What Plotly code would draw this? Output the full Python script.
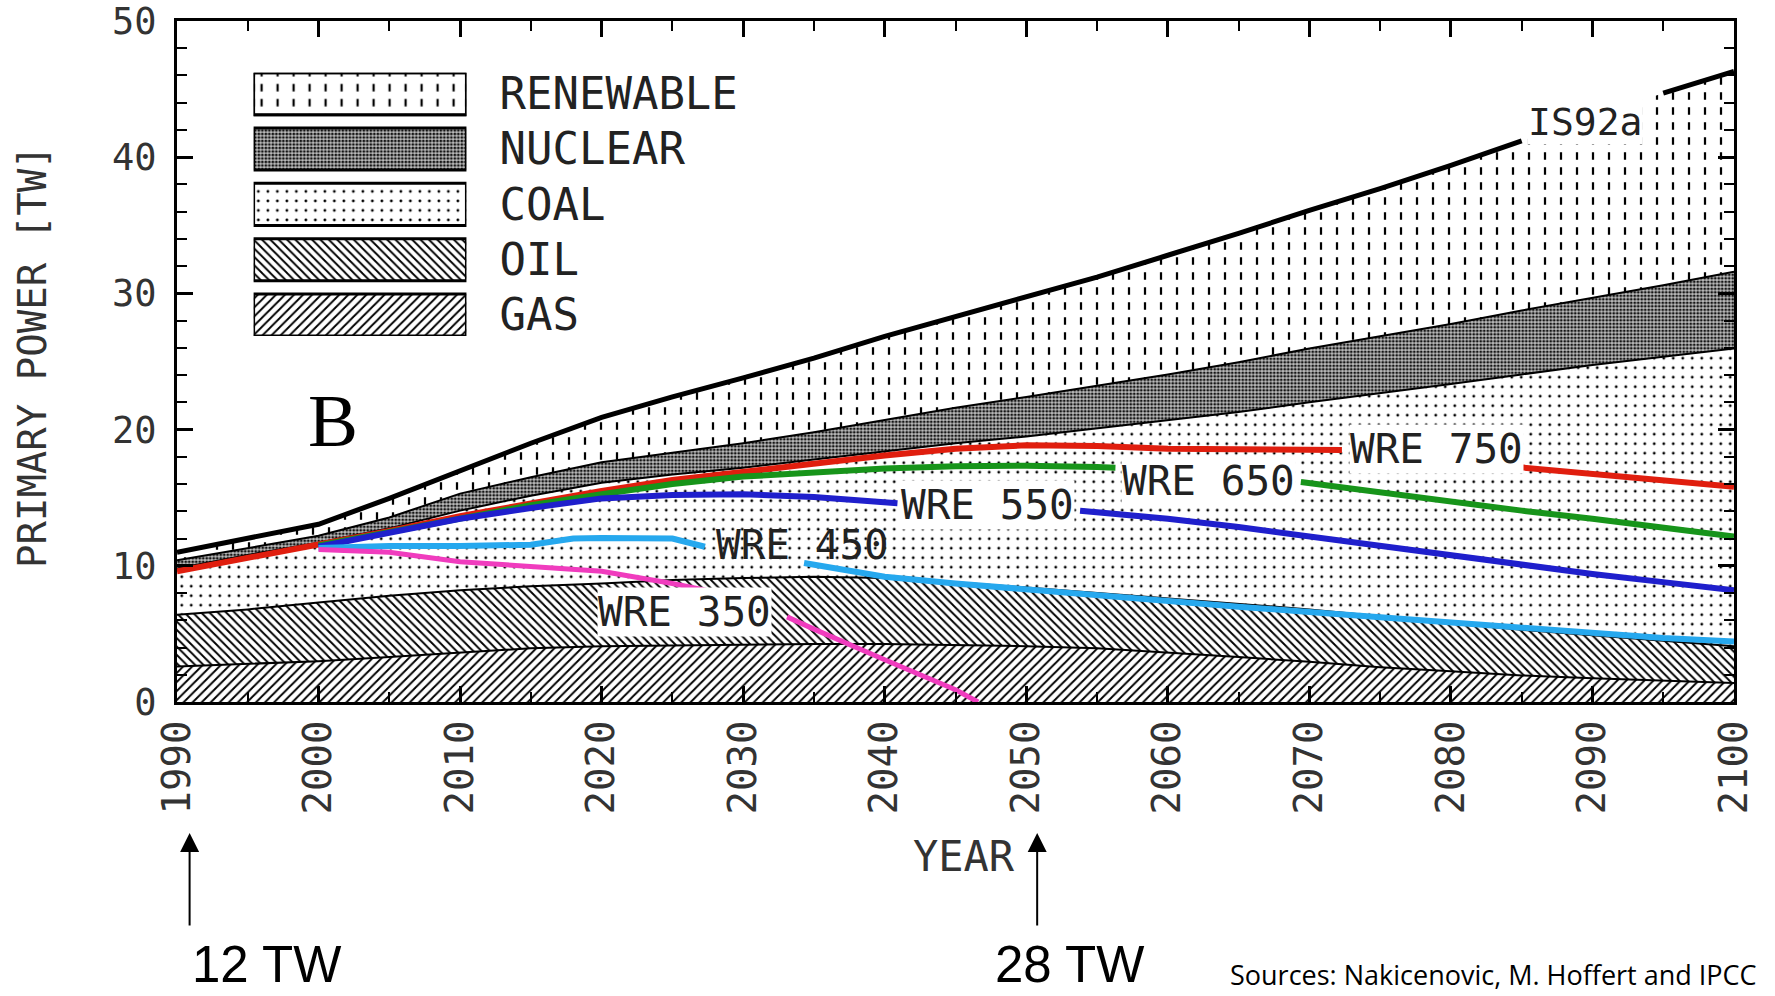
import numpy as np
import plotly.graph_objects as go

# ---------------- data ----------------
years = list(range(1990, 2101, 5))
gas = [2.6, 2.8, 3.0, 3.3, 3.6, 3.95, 4.1, 4.15, 4.25, 4.25, 4.25, 4.2, 4.1, 3.95,
       3.65, 3.3, 2.95, 2.55, 2.25, 1.95, 1.75, 1.55, 1.4]
oil = [3.8, 4.0, 4.3, 4.5, 4.6, 4.55, 4.6, 4.8, 4.85, 4.95, 4.85, 4.6, 4.3, 4.05,
       3.95, 3.9, 3.85, 3.75, 3.55, 3.35, 3.15, 2.95, 2.7]
coal = [3.4, 4.0, 4.4, 4.95, 5.85, 6.65, 7.4, 7.75, 8.1, 8.6, 9.3, 10.2, 11.1, 12.1,
        13.1, 14.1, 15.2, 16.35, 17.55, 18.75, 19.85, 20.85, 21.85]
nuclear = [0.6, 0.5, 0.5, 0.8, 1.25, 1.35, 1.5, 1.6, 1.8, 2.0, 2.3, 2.6, 2.9, 3.1,
           3.35, 3.65, 3.95, 4.2, 4.4, 4.7, 4.9, 5.25, 5.65]
renewable = [0.6, 0.7, 0.85, 1.4, 1.7, 2.5, 3.3, 4.1, 4.8, 5.45, 6.15, 6.7, 7.3, 8.0,
             8.75, 9.45, 10.15, 10.85, 11.65, 12.45, 13.35, 14.1, 14.7]
source_names = ["GAS", "OIL", "COAL", "NUCLEAR", "RENEWABLE"]
is92a_label_gap = (2086, 2094)

wre750_years = [1990, 1995, 2000, 2005, 2010, 2015, 2020, 2025, 2030, 2035, 2040, 2045,
                2050, 2055, 2060, 2065, 2070, 2072.3, 2078, 2084.7, 2090, 2095, 2100]
wre750 = [9.6, 10.6, 11.5, 12.55, 13.65, 14.6, 15.5, 16.3, 16.9, 17.6, 18.1, 18.6,
          18.85, 18.8, 18.6, 18.55, 18.5, 18.5, None, 17.25, 16.75, 16.25, 15.8]
wre650_years = [2000, 2005, 2010, 2015, 2020, 2025, 2030, 2035, 2040, 2045, 2050, 2055,
                2056.3, 2063, 2069.4, 2075, 2080, 2085, 2090, 2095, 2100]
wre650 = [11.5, 12.5, 13.55, 14.45, 15.25, 16.0, 16.55, 16.9, 17.15, 17.3, 17.35, 17.25,
          17.2, None, 16.15, 15.4, 14.65, 14.05, 13.45, 12.85, 12.15]
wre550_years = [2000, 2005, 2010, 2015, 2020, 2025, 2030, 2035, 2040, 2040.9, 2047,
                2053.8, 2055, 2060, 2065, 2070, 2075, 2080, 2085, 2090, 2095, 2100]
wre550 = [11.4, 12.45, 13.45, 14.25, 14.95, 15.2, 15.25, 15.05, 14.65, 14.6, None,
          14.05, 13.95, 13.45, 12.85, 12.15, 11.45, 10.7, 10.05, 9.4, 8.8, 8.2]
wre450_years = [2000, 2005, 2010, 2015, 2018, 2020, 2025, 2027.3, 2031, 2034.3, 2040,
                2045, 2050, 2055, 2060, 2065, 2070, 2075, 2080, 2085, 2090, 2095, 2100]
wre450 = [11.3, 11.45, 11.45, 11.55, 12.0, 12.05, 12.0, 11.4, None, 10.2, 9.2,
          8.7, 8.25, 7.8, 7.4, 7.0, 6.6, 6.2, 5.8, 5.4, 5.0, 4.7, 4.45]
wre350_years = [2000, 2005, 2010, 2015, 2020, 2025, 2027.6, 2030, 2033.1, 2035, 2040,
                2045, 2046.6]
wre350 = [11.2, 11.0, 10.3, 9.95, 9.6, 8.7, 8.15, None, 6.25, 5.35, 3.1, 0.9, 0.0]

x_ticks = list(range(1990, 2101, 10))
y_ticks = list(range(0, 51, 10))

# ---------------- styles ----------------
MONO = "DejaVu Sans Mono"
patterns = {
    "GAS": dict(shape="/", size=6.4, solidity=0.3, fgcolor="black", bgcolor="white"),
    "OIL": dict(shape="\\", size=5.9, solidity=0.32, fgcolor="black", bgcolor="white"),
    "COAL": dict(shape=".", size=9.5, solidity=0.07, fgcolor="black", bgcolor="white"),
    "NUCLEAR": dict(shape=".", size=3.5, solidity=0.5, fgcolor="#151515", bgcolor="#bdbdbd"),
    "RENEWABLE": dict(shape="|", size=16, solidity=0.14, fgcolor="black", bgcolor="white"),
}
CUT_BG = "rgba(255,255,255,0.004)"
dash_cut = dict(shape="-", size=15, solidity=0.5, fgcolor="white", fgopacity=1,
                fillmode="overlay")
wre_colors = {"750": "#e01e0e", "650": "#17941a", "550": "#1f1fcc",
              "450": "#26a8ee", "350": "#f03cbe"}

tops = np.cumsum(np.array([gas, oil, coal, nuclear, renewable]), axis=0)

fig = go.Figure()

# stacked fills
for i, name in enumerate(source_names):
    fig.add_trace(go.Scatter(
        x=years, y=tops[i].tolist(), mode="lines", line=dict(width=0, color="black"),
        fill="tozeroy" if i == 0 else "tonexty", fillcolor="white",
        fillpattern=dict(fillmode="replace", **patterns[name]),
        hoverinfo="skip", showlegend=False))
# cut the renewable vertical lines into dashes
fig.add_trace(go.Scatter(x=years, y=tops[3].tolist(), mode="lines",
                         line=dict(width=0), hoverinfo="skip", showlegend=False))
fig.add_trace(go.Scatter(x=years, y=tops[4].tolist(), mode="lines", line=dict(width=0),
                         fill="tonexty", fillcolor=CUT_BG, fillpattern=dash_cut,
                         hoverinfo="skip", showlegend=False))

# boundary lines
for i in range(4):
    fig.add_trace(go.Scatter(x=years, y=tops[i].tolist(), mode="lines",
                             line=dict(color="black", width=2),
                             hoverinfo="skip", showlegend=False))
total_line = [None if is92a_label_gap[0] <= yr <= is92a_label_gap[1] else float(v)
              for yr, v in zip(years, tops[4])]
fig.add_trace(go.Scatter(x=years, y=total_line, mode="lines",
                         line=dict(color="black", width=5), connectgaps=False,
                         hoverinfo="skip", showlegend=False))

# WRE scenarios
for key, xs, ys, w in [("750", wre750_years, wre750, 6), ("650", wre650_years, wre650, 6),
                       ("550", wre550_years, wre550, 6), ("450", wre450_years, wre450, 6),
                       ("350", wre350_years, wre350, 5)]:
    fig.add_trace(go.Scatter(x=xs, y=ys, mode="lines", connectgaps=False,
                             line=dict(color=wre_colors[key], width=w),
                             hoverinfo="skip", showlegend=False))

# legend drawn as an inset of patterned bars
legend_order = source_names
fig.add_trace(go.Bar(
    orientation="h", x=[1] * 5, y=legend_order, xaxis="x2", yaxis="y2",
    marker=dict(color="white",
                pattern=dict(shape=[patterns[n]["shape"] for n in legend_order],
                             size=[patterns[n]["size"] for n in legend_order],
                             solidity=[patterns[n]["solidity"] for n in legend_order],
                             fgcolor=[patterns[n]["fgcolor"] for n in legend_order],
                             bgcolor=[patterns[n]["bgcolor"] for n in legend_order],
                             fillmode="replace"),
                line=dict(color="black", width=3)),
    hoverinfo="skip", showlegend=False))
fig.add_trace(go.Bar(
    orientation="h", x=[1], y=["RENEWABLE"], xaxis="x2", yaxis="y2",
    marker=dict(color=CUT_BG, pattern=dash_cut,
                line=dict(color="black", width=3)),
    hoverinfo="skip", showlegend=False))

axis_common = dict(showgrid=False, zeroline=False, showline=True, linecolor="black",
                   linewidth=3, mirror="allticks", ticks="inside", tickcolor="black",
                   tickwidth=2.5, ticklen=16, automargin=False, ticklabeloverflow="allow")
fig.update_layout(
    width=1775, height=996,
    margin=dict(l=177, r=41, t=21, b=294, autoexpand=False),
    paper_bgcolor="white", plot_bgcolor="white",
    barmode="overlay", bargap=0.24,
    xaxis=dict(range=[1990, 2100], tickvals=x_ticks, tickangle=-90,
               tickfont=dict(family=MONO, size=39, color="#333"),
               ticklabelstandoff=0,
               minor=dict(dtick=5, tick0=1990, ticks="inside", ticklen=10,
                          tickwidth=2, tickcolor="black"),
               **axis_common),
    yaxis=dict(range=[0, 50], tickvals=y_ticks,
               tickfont=dict(family=MONO, size=37, color="#333"),
               ticklabelstandoff=10,
               minor=dict(dtick=2, tick0=0, ticks="inside", ticklen=10,
                          tickwidth=2, tickcolor="black"),
               **axis_common),
    xaxis2=dict(domain=[0.0492, 0.1859], anchor="y2", range=[0, 1], visible=False,
                fixedrange=True, automargin=False),
    yaxis2=dict(domain=[0.5374, 0.9241], anchor="x2", type="category",
                categoryorder="array", categoryarray=legend_order,
                range=[-0.38, 4.38], side="right", showgrid=False, showline=False,
                zeroline=False, ticks="", ticklabelstandoff=32, automargin=False,
                tickfont=dict(family=MONO, size=44, color="#222")),
)

ann = []
ann.append(dict(text="PRIMARY POWER [TW]", xref="paper", yref="paper", x=-0.0931, y=0.5066,
                xanchor="center", yanchor="middle", textangle=-90, showarrow=False,
                font=dict(family=MONO, size=39, color="#333")))
ann.append(dict(text="YEAR", xref="paper", yref="paper", x=0.5055, y=-0.2276,
                xanchor="center", yanchor="middle",
                showarrow=False, font=dict(family=MONO, size=42, color="#333")))
ann.append(dict(text="B", x=2001.0, y=20.7, xanchor="center", yanchor="middle",
                showarrow=False,
                font=dict(family="Liberation Serif", size=75, color="black")))
ann.append(dict(text="IS92a", x=2085.4, y=42.6, xanchor="left", yanchor="middle",
                showarrow=False, borderpad=0, bgcolor="white",
                font=dict(family=MONO, size=38, color="#222")))
for txt, lx, ly, bg in [("WRE 750", 2072.8, 18.58, "white"), ("WRE 650", 2056.7, 16.23, "white"),
                        ("WRE 550", 2041.1, 14.46, "white"), ("WRE 450", 2028.0, 11.53, None),
                        ("WRE 350", 2019.7, 6.61, "white")]:
    a = dict(text=txt, x=lx, y=ly, xanchor="left", yanchor="middle", showarrow=False,
             borderpad=0, font=dict(family=MONO, size=41, color="#222"))
    if bg:
        a["bgcolor"] = bg
    ann.append(a)
for ax_year, label, lx in [(1990.89, "12 TW", 0.0083), (2050.77, "28 TW", 0.5241)]:
    ann.append(dict(text="", x=ax_year, xref="x", yref="paper", y=-0.1924,
                    showarrow=True, arrowhead=2, arrowsize=1.9, arrowwidth=2,
                    arrowcolor="black", ax=0, ay=94, standoff=0))
    ann.append(dict(text=label, xref="paper", yref="paper", x=lx, y=-0.4302,
                    xanchor="left", yanchor="bottom", showarrow=False,
                    font=dict(family="Liberation Sans", size=51, color="black")))
ann.append(dict(text="Sources: Nakicenovic, M. Hoffert and IPCC", xref="paper", yref="paper",
                x=0.6750, y=-0.4302, xanchor="left", yanchor="bottom", showarrow=False,
                font=dict(family="Open Sans", size=27, color="black")))
fig.update_layout(annotations=ann)

fig.write_html("out.html", config={"displayModeBar": False},
               post_script="document.body.style.margin='0';document.body.style.overflow='hidden';")
